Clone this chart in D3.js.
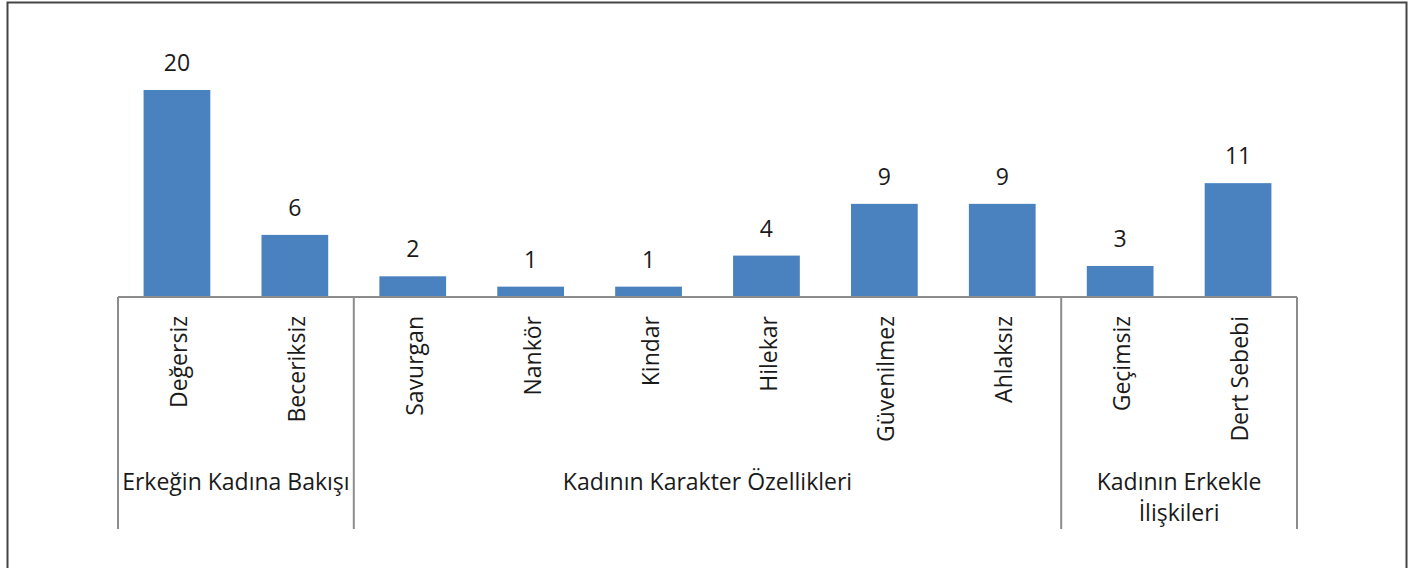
<!DOCTYPE html>
<html lang="tr">
<head>
<meta charset="utf-8">
<script src="https://d3js.org/d3.v7.min.js"></script>
<style>
  * { margin: 0; padding: 0; }
  body { width: 1410px; height: 568px; background: #fff; overflow: hidden; }
  svg { display: block; font-family: "Open Sans", sans-serif; }
  .lbl { fill: #1a1a1a; }
</style>
</head>
<body>
<script>
// data
const categories = ['Değersiz', 'Beceriksiz', 'Savurgan', 'Nankör', 'Kindar', 'Hilekar', 'Güvenilmez', 'Ahlaksız', 'Geçimsiz', 'Dert Sebebi'];
const values = [20, 6, 2, 1, 1, 4, 9, 9, 3, 11];
const groupNames = [['Erkeğin Kadına Bakışı'], ['Kadının Karakter Özellikleri'], ['Kadının Erkekle', 'İlişkileri']];
const groupSizes = [2, 6, 2];

const width = 1410, height = 568;
const fontSize = 23;

const svg = d3.select('body').append('svg')
  .attr('width', width)
  .attr('height', height);

// outer frame
svg.append('rect')
  .attr('x', 7.5).attr('y', 2.5)
  .attr('width', 1399).attr('height', 620)
  .attr('fill', '#fff')
  .attr('stroke', '#444')
  .attr('stroke-width', 2);

const x = d3.scaleBand()
  .domain(categories)
  .range([118, 1297])
  .paddingInner(0.434)
  .paddingOuter(0.217);

const y = d3.scaleLinear()
  .domain([0, 20])
  .range([297, 90]);

// bars
svg.selectAll('rect.bar')
  .data(values)
  .enter().append('rect')
  .attr('class', 'bar')
  .attr('x', (d, i) => x(categories[i]))
  .attr('y', d => y(d))
  .attr('width', x.bandwidth())
  .attr('height', d => y(0) - y(d))
  .attr('fill', '#4a81bf');

// value labels
svg.selectAll('text.val')
  .data(values)
  .enter().append('text')
  .attr('class', 'lbl val')
  .attr('x', (d, i) => x(categories[i]) + x.bandwidth() / 2)
  .attr('y', d => y(d) - 27)
  .attr('dy', '0.35em')
  .attr('text-anchor', 'middle')
  .attr('font-size', fontSize)
  .text(d => d);

// axis line
const axisG = svg.append('g');
axisG.append('line')
  .attr('x1', x.range()[0]).attr('x2', x.range()[1])
  .attr('y1', y(0)).attr('y2', y(0))
  .attr('stroke', '#8c8c8c')
  .attr('stroke-width', 2);

// group boundaries
const step = x.step();
let start = 0;
const bounds = [0];
groupSizes.forEach(n => { start += n; bounds.push(start); });
axisG.selectAll('line.div')
  .data(bounds)
  .enter().append('line')
  .attr('class', 'div')
  .attr('x1', d => x.range()[0] + d * step)
  .attr('x2', d => x.range()[0] + d * step)
  .attr('y1', y(0)).attr('y2', 529)
  .attr('stroke', '#8c8c8c')
  .attr('stroke-width', 2);

// category labels
svg.selectAll('text.cat')
  .data(categories)
  .enter().append('text')
  .attr('class', 'lbl cat')
  .attr('transform', d => `translate(${x(d) + x.bandwidth() / 2 + 2},316) rotate(-90)`)
  .attr('dy', '0.35em')
  .attr('text-anchor', 'end')
  .attr('font-size', fontSize)
  .text(d => d);

// group labels
groupNames.forEach((lines, gi) => {
  const cx = x.range()[0] + (bounds[gi] + bounds[gi + 1]) / 2 * step;
  const t = svg.append('text')
    .attr('class', 'lbl grp')
    .attr('text-anchor', 'middle')
    .attr('font-size', fontSize);
  lines.forEach((s, li) => {
    t.append('tspan')
      .attr('x', cx)
      .attr('y', 482 + li * 31)
      .attr('dy', '0.35em')
      .text(s);
  });
});
</script>
</body>
</html>
